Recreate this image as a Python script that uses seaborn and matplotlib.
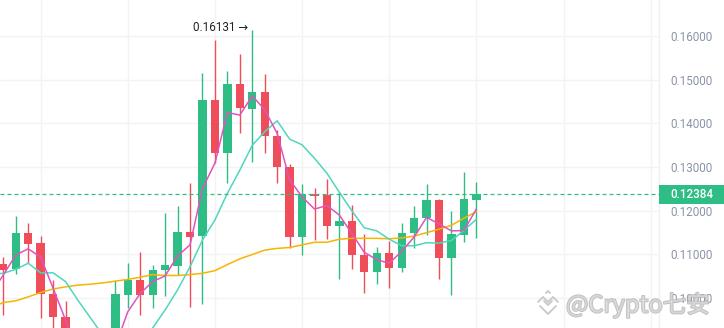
import numpy as np
import pandas as pd
import matplotlib
matplotlib.use("Agg")
import matplotlib.pyplot as plt
import matplotlib.patheffects as pe
from matplotlib.patches import Rectangle
from matplotlib.lines import Line2D
from matplotlib.transforms import blended_transform_factory
import seaborn as sns

# ---- OHLC candles (index 0 .. 38) ----
opens = [0.10783, 0.10660, 0.11500, 0.11255, 0.10088, 0.09577, 0.08850, 0.08150, 0.08300, 0.07900,
         0.10081, 0.10416, 0.10081, 0.10645, 0.10744, 0.11522, 0.11431, 0.14535, 0.13330, 0.14902,
         0.14337, 0.14719, 0.13719, 0.13010, 0.11408, 0.12384, 0.12361, 0.11660, 0.11767, 0.10989,
         0.10607, 0.11027, 0.10699, 0.11484, 0.11828, 0.12247, 0.10912, 0.11446, 0.12247]
highs = [0.10950, 0.11881, 0.11713, 0.11423, 0.10420, 0.09936, 0.08950, 0.08700, 0.08600, 0.10416,
         0.10798, 0.11065, 0.10760, 0.11942, 0.12117, 0.12644, 0.15146, 0.15908, 0.15200, 0.15588,
         0.16131, 0.15130, 0.13849, 0.13063, 0.12613, 0.12529, 0.12728, 0.12423, 0.12133, 0.11469,
         0.11164, 0.11309, 0.11713, 0.12110, 0.12613, 0.12262, 0.11995, 0.12895, 0.12659]
lows = [0.09616, 0.10554, 0.10798, 0.09539, 0.09250, 0.08500, 0.07900, 0.08000, 0.07700, 0.07800,
        0.09768, 0.09616, 0.09768, 0.10050, 0.10531, 0.09791, 0.09867, 0.13086, 0.12628, 0.13788,
        0.13109, 0.13315, 0.12628, 0.11141, 0.10989, 0.11332, 0.11355, 0.10432, 0.10668, 0.10127,
        0.10317, 0.10241, 0.10607, 0.11141, 0.11446, 0.10439, 0.10073, 0.11278, 0.11370]
closes = [0.10645, 0.11500, 0.11240, 0.10088, 0.09562, 0.08850, 0.08150, 0.08300, 0.07900, 0.10096,
          0.10416, 0.10081, 0.10645, 0.10760, 0.11522, 0.11408, 0.14535, 0.13330, 0.14902, 0.14345,
          0.14719, 0.13719, 0.13010, 0.11408, 0.12377, 0.12346, 0.11660, 0.11767, 0.10989, 0.10607,
          0.11027, 0.10699, 0.11484, 0.11828, 0.12247, 0.10912, 0.11469, 0.12270, 0.12384]

# ---- moving averages (index -1 .. 38) ----
ma_fast = [0.1010, 0.1053, 0.1099, 0.1113, 0.1094, 0.1023, 0.0950, 0.0870, 0.0840, 0.0840,
           0.0890, 0.0969, 0.1011, 0.1038, 0.1051, 0.1097, 0.1122, 0.1251, 0.1309, 0.1425,
           0.1419, 0.1463, 0.1431, 0.1377, 0.1271, 0.1232, 0.1204, 0.1212, 0.1190, 0.1148,
           0.1105, 0.1088, 0.1080, 0.1107, 0.1140, 0.1185, 0.1170, 0.1154, 0.1155, 0.1204]
ma_mid = [0.1055, 0.1057, 0.1066, 0.1080, 0.1058, 0.1058, 0.1038, 0.0995, 0.0955, 0.0915,
          0.0900, 0.0893, 0.0900, 0.0932, 0.0973, 0.1019, 0.1072, 0.1133, 0.1179, 0.1240,
          0.1293, 0.1350, 0.1381, 0.1406, 0.1364, 0.1351, 0.1320, 0.1286, 0.1242, 0.1200,
          0.1161, 0.1154, 0.1135, 0.1120, 0.1120, 0.1127, 0.1126, 0.1132, 0.1155, 0.1181]
ma_slow = [0.0978, 0.0990, 0.0994, 0.1003, 0.1013, 0.1021, 0.1026, 0.1030, 0.1032, 0.1035,
           0.1039, 0.1043, 0.1048, 0.1054, 0.1052, 0.1052, 0.1054, 0.1057, 0.1063, 0.1077,
           0.1090, 0.1100, 0.1110, 0.1114, 0.1116, 0.1122, 0.1128, 0.1128, 0.1135, 0.1137,
           0.1137, 0.1137, 0.1136, 0.1138, 0.1142, 0.1150, 0.1158, 0.1167, 0.1183, 0.1198]

last_price = 0.12384
peak_label = "0.16131"
price_ticks = [0.10, 0.11, 0.12, 0.13, 0.14, 0.15, 0.16]
watermark = "@Crypto七安"

UP = "#2ebd85"
DOWN = "#ef4d5a"
C_FAST = "#e153c0"
C_MID = "#4fd6bd"
C_SLOW = "#f7b500"
GRID = "#f3f3f3"
TICK = "#8a93a6"

sns.set_theme(style="white")
plt.rcParams["font.family"] = ["Roboto", "DejaVu Sans"]

W, H = 724, 328
fig = plt.figure(figsize=(W / 100, H / 100), dpi=100)
plot_w = 659
ax = fig.add_axes([0, 0, plot_w / W, 1])

candles = pd.DataFrame({"i": np.arange(len(opens)), "open": opens, "high": highs,
                        "low": lows, "close": closes})
candles["color"] = np.where(candles["close"] >= candles["open"], UP, DOWN)
candles["bottom"] = candles[["open", "close"]].min(axis=1)
candles["height"] = (candles["close"] - candles["open"]).abs().clip(lower=0.00025)

ma = pd.DataFrame({"i": np.arange(-1, len(ma_fast) - 1), "fast": ma_fast,
                   "mid": ma_mid, "slow": ma_slow})

# grid
ax.set_xlim(-0.265, 52.67)
ax.set_ylim(0.09318, 0.16824)
ax.set_xticks([3, 10, 17, 24, 31, 38, 45, 52])
ax.set_yticks(price_ticks)
ax.grid(True, color=GRID, lw=1.0)
ax.set_axisbelow(True)
ax.tick_params(axis="x", length=0, labelbottom=False)
ax.yaxis.tick_right()
ax.tick_params(axis="y", length=0, pad=8, labelsize=8.4, labelcolor=TICK)
ax.set_yticklabels([f"{v:.5f}" for v in price_ticks])
for s in ["top", "left", "bottom"]:
    ax.spines[s].set_visible(False)
ax.spines["right"].set_color("#f0f0f0")
ax.spines["right"].set_linewidth(1.0)

# candles: wicks then bodies
ax.vlines(candles["i"], candles["low"], candles["high"], colors=candles["color"],
          lw=1.0, zorder=2)
ax.bar(candles["i"], candles["height"], bottom=candles["bottom"], width=0.67,
       color=candles["color"], linewidth=0, zorder=3)

# moving averages
sns.lineplot(data=ma, x="i", y="slow", color=C_SLOW, lw=1.1, ax=ax, zorder=4)
sns.lineplot(data=ma, x="i", y="mid", color=C_MID, lw=1.1, ax=ax, zorder=4)
sns.lineplot(data=ma, x="i", y="fast", color=C_FAST, lw=1.1, ax=ax, zorder=5)
ax.set_xlabel("")
ax.set_ylabel("")

# last price line and tag
ax.axhline(last_price, color=UP, lw=0.9, ls=(0, (3.2, 2.4)), zorder=6)
tr = blended_transform_factory(ax.transAxes, ax.transData)
half = 9.5 / (H / (0.16824 - 0.09318))
ax.add_patch(Rectangle((1.0, last_price - half), (W - plot_w) / plot_w, 2 * half,
                       transform=tr, facecolor=UP, edgecolor="none",
                       clip_on=False, zorder=10))
ax.text(670 / plot_w, last_price, f"{last_price:.5f}", transform=tr, ha="left",
        va="center", color="white", fontsize=8.4, fontweight="medium",
        clip_on=False, zorder=11)

# peak marker
pk = int(np.argmax(highs))
ax.annotate(peak_label + " →", xy=(pk, highs[pk]), xytext=(-3, 1.8),
            textcoords="offset points", ha="right", va="center",
            fontsize=8.4, color="#1e2329", zorder=8)

# watermark (hollow, see-through lettering)
fig.text(566 / W, 1 - 305 / H, watermark, fontsize=17, color=(1, 1, 1, 0.35),
         family=["Noto Sans CJK SC", "DejaVu Sans"], ha="left", va="center",
         path_effects=[pe.Stroke(linewidth=1.4, foreground=(0.72, 0.72, 0.72, 0.85)),
                       pe.Normal()],
         zorder=20)


def px(pts):
    xs = [p[0] / W for p in pts]
    ys = [1 - p[1] / H for p in pts]
    return xs, ys


for seg in ([(538, 302), (543, 297), (548, 302), (553, 297), (558, 302)],
            [(540, 306), (548, 314), (556, 306)],
            [(544, 301), (548, 305), (552, 301)],
            [(546, 293), (548, 291), (550, 293)]):
    xs, ys = px(seg)
    fig.add_artist(Line2D(xs, ys, transform=fig.transFigure, color="#c8c8c8",
                          lw=1.3, zorder=20))

fig.savefig("out.png", dpi=100, facecolor="white")
